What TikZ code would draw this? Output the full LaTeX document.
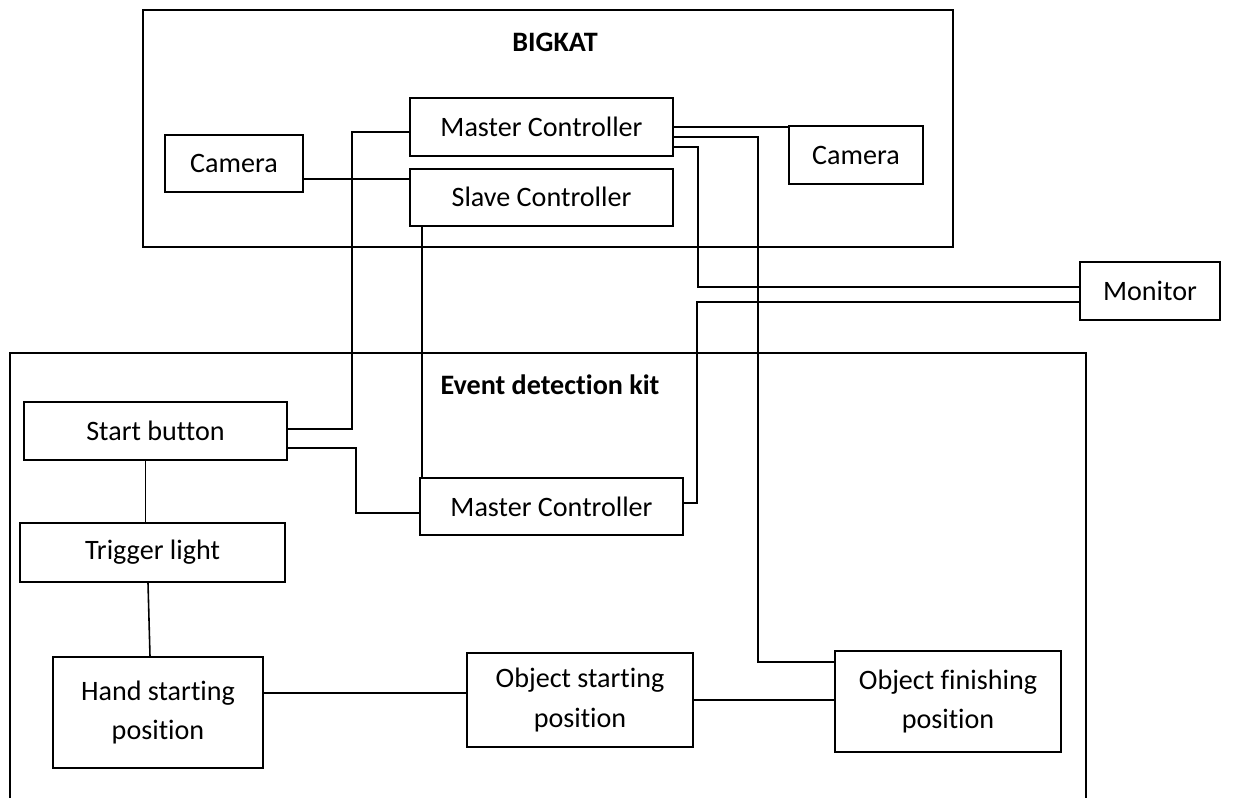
\documentclass[tikz,border=0pt]{standalone}
\usepackage{fontspec}
\setmainfont{Carlito}[Ligatures=NoCommon]
\usetikzlibrary{positioning,calc}

\begin{document}
\begin{tikzpicture}[every node/.style={font=\fontsize{16}{22.5}\selectfont,align=center},
    box/.style={draw,line width=1pt,minimum height=1.16cm,inner sep=2pt},
    title/.style={font=\fontsize{16}{20}\selectfont\bfseries},
    wire/.style={line width=0.9pt}]
  \useasboundingbox (0,0) rectangle (25.04,15.96);
  % BIGKAT side
  \node[box,minimum width=16.2cm,minimum height=4.74cm] (bigkat) at (10.96,13.39) {};
  \node[title] (bigkattitle) at (11.10,15.12) {BIGKAT};
  \node[box,minimum width=2.76cm,minimum height=1.14cm] (camL) at (4.68,12.69) {Camera};
  \node[box,minimum width=5.26cm] (mcA) at (10.83,13.42) {Master Controller};
  \node[box,minimum width=5.26cm,minimum height=1.14cm,below=0.22cm of mcA] (slave) {Slave Controller};
  \node[box,minimum width=2.68cm] (camR) at (17.12,12.86) {Camera};
  \node[box,minimum width=2.80cm] (monitor) at (23.00,10.14) {Monitor};
  % event detection kit
  \draw[line width=1pt] (0.2,0) -- (0.2,8.9) -- (21.72,8.9) -- (21.72,0);
  \node[title] (edktitle) at (11.00,8.26) {Event detection kit};
  \node[box,minimum width=5.26cm] (start) at (3.11,7.34) {Start button};
  \node[box,minimum width=5.26cm,minimum height=1.14cm] (mcB) at (11.03,5.83) {Master Controller};
  \node[box,minimum width=5.30cm,minimum height=1.18cm] (trigger) at (3.05,4.91) {Trigger light};
  \node[box,minimum width=4.20cm,minimum height=2.22cm] (hand) at (3.16,1.71) {Hand starting\\position};
  \node[box,minimum width=4.52cm,minimum height=1.88cm] (objS) at (11.60,1.96) {Object starting\\position};
  \node[box,minimum width=4.52cm,minimum height=2.02cm] (objF) at (18.96,1.93) {Object finishing\\position};
  % wiring
  \draw[wire] ([yshift=-0.31cm]camL.east) -- ([yshift=-0.31cm]camL.east -| slave.west);
  \draw[wire] (mcA.east) -- (mcA.east -| camR.west);
  \draw[wire] ([yshift=-0.2cm]mcA.east) -- ++(1.68,0) |- ([yshift=0.79cm]objF.west);
  \draw[wire] ([yshift=-0.4cm]mcA.east) -- ++(0.48,0) |- ([yshift=0.08cm]monitor.west);
  \draw[wire] ([yshift=0.07cm]mcB.east) -- ++(0.26,0) |- ([yshift=-0.22cm]monitor.west);
  \draw[wire] ([yshift=0.04cm]start.east) -- ++(1.28,0) |- ([yshift=-0.1cm]mcA.west);
  \draw[wire] ([yshift=-0.34cm]start.east) -- ++(1.36,0) |- ([yshift=-0.13cm]mcB.west);
  \draw[wire] ([xshift=0.26cm]slave.south west) -- ([xshift=0.26cm]slave.south west |- mcB.north);
  \draw[wire] ([xshift=-0.2cm]start.south) -- ([xshift=-0.2cm]start.south |- trigger.north);
  \draw[wire] ([xshift=-0.09cm]trigger.south) -- ([xshift=-0.16cm]hand.north);
  \draw[wire] ([yshift=0.39cm]hand.east) -- ([yshift=0.39cm]hand.east -| objS.west);
  \draw[wire] (objS.east) -- (objS.east -| objF.west);
\end{tikzpicture}
\end{document}
